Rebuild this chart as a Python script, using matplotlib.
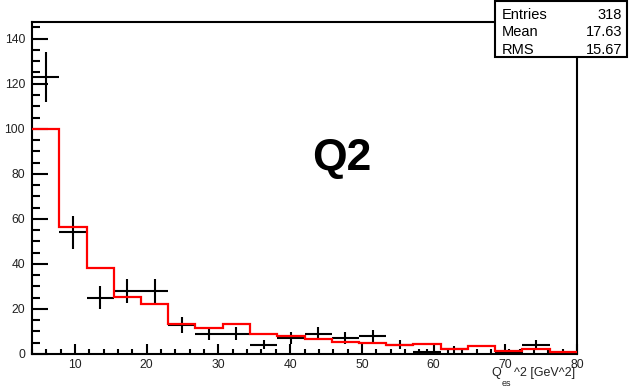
import numpy as np
import matplotlib
matplotlib.use("Agg")
import matplotlib.pyplot as plt
from matplotlib.patches import Rectangle
from matplotlib.ticker import MultipleLocator

plt.rcParams['font.family'] = ['Liberation Sans', 'DejaVu Sans']

# ---- data ----
bin_edges = np.linspace(4, 80, 21)
data_counts = [123, 54, 25, 28, 28, 13, 9, 9, 4, 7, 9, 7, 8, 4, 1, 2, 0, 1, 4, 0]
mc_counts = [100, 56.6, 38.1, 25.5, 22.1, 13.1, 11.6, 13.1, 8.9, 8.0,
             6.5, 5.5, 5.0, 4.0, 4.4, 2.2, 3.5, 1.5, 2.1, 0.7]
title_text = "Q2"
stat_labels = ["Entries", "Mean", "RMS"]
stat_values = ["318", "17.63", "15.67"]

W, H = 630, 389
fig = plt.figure(figsize=(W / 100, H / 100), dpi=100)

def fx(px):
    return px / W

def fy(py):
    return 1 - py / H

ax = fig.add_axes([fx(32), fy(354), fx(577) - fx(32), fy(22) - fy(354)])

edges = np.asarray(bin_edges)
centers = 0.5 * (edges[:-1] + edges[1:])
half = 0.5 * (edges[1:] - edges[:-1])
d = np.asarray(data_counts, dtype=float)
mask = d > 0
ax.errorbar(centers[mask], d[mask], yerr=np.sqrt(d[mask]), xerr=half[mask],
            fmt='none', ecolor='black', elinewidth=1.5, capsize=0, zorder=3)
ax.stairs(mc_counts, edges, color='#ff0000', linewidth=1.6, baseline=None, zorder=4)

ax.set_xlim(4, 80)
ax.set_ylim(0, 147.4)

for s in ax.spines.values():
    s.set_linewidth(1.5)

ax.xaxis.set_major_locator(MultipleLocator(10))
ax.xaxis.set_minor_locator(MultipleLocator(2))
ax.yaxis.set_major_locator(MultipleLocator(20))
ax.yaxis.set_minor_locator(MultipleLocator(5))
ax.tick_params(axis='x', which='major', direction='in', length=7.2, width=1.5,
               labelsize=8.7, pad=3.5, top=False)
ax.tick_params(axis='x', which='minor', direction='in', length=3.6, width=1.5, top=False)
ax.tick_params(axis='y', which='major', direction='in', length=11.5, width=1.5,
               labelsize=8.7, pad=5, right=False)
ax.tick_params(axis='y', which='minor', direction='in', length=5.8, width=1.5, right=False)
for lab in ax.get_xticklabels() + ax.get_yticklabels():
    lab.set_color('#222222')

# Title inside plot
fig.text(fx(341.5), fy(159), title_text, fontsize=32, fontweight='bold',
         ha='center', va='center')

# Axis label
fig.text(fx(496), fy(373), "Q", fontsize=9, ha='center', va='center', color='#222222')
fig.text(fx(506), fy(383), "es", fontsize=6.5, ha='center', va='center', color='#222222')
fig.text(fx(575), fy(373), "^2 [GeV^2]", fontsize=9, ha='right', va='center', color='#222222')

# Stat box
box = Rectangle((fx(495), fy(57)), fx(627) - fx(495), fy(1) - fy(57),
                transform=fig.transFigure, facecolor='white', edgecolor='black',
                linewidth=1.5, zorder=10)
fig.patches.append(box)
rows_y = [15, 32.5, 50]
for lab, val, yy in zip(stat_labels, stat_values, rows_y):
    fig.text(fx(502), fy(yy), lab, fontsize=10.5, ha='left', va='center', zorder=11)
    fig.text(fx(622), fy(yy), val, fontsize=10.5, ha='right', va='center', zorder=11)

fig.savefig("out.png", dpi=100)
